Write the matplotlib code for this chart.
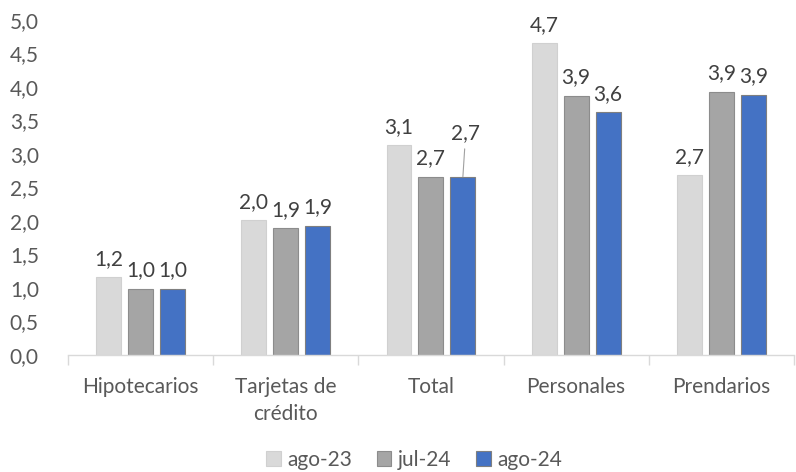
import numpy as np
import matplotlib
matplotlib.use('Agg')
import matplotlib.pyplot as plt
from matplotlib.ticker import FuncFormatter

plt.rcParams['font.family'] = ['Lato', 'DejaVu Sans']

### Data ######################################################################

categories = ['Hipotecarios', 'Tarjetas de\ncrédito', 'Total', 'Personales', 'Prendarios']
series = ['ago-23', 'jul-24', 'ago-24']
ago23 = [1.16, 2.01, 3.13, 4.65, 2.68]
jul24 = [0.99, 1.89, 2.66, 3.87, 3.93]
ago24 = [0.99, 1.93, 2.66, 3.62, 3.88]

colors = ['#D9D9D9', '#A5A5A5', '#4472C4']
edges = ['#D0D0D0', '#8C8C8C', '#7F7F7F']
fs = 15

### Plot ######################################################################

fig = plt.figure(figsize=(7.96, 4.72), dpi=100)
ax = fig.add_axes([0.0854, 0.248, 0.912, 0.71])

x = np.arange(len(categories))
width = 0.172
offsets = [-0.22, 0.0, 0.22]

def fmt(v):
    return f'{v:.1f}'.replace('.', ',')

for k, vals in enumerate([ago23, jul24, ago24]):
    bars = ax.bar(x + offsets[k], vals, width, color=colors[k], edgecolor=edges[k],
                  linewidth=0.8, label=series[k], zorder=2)
    for i, b in enumerate(bars):
        v = vals[i]
        xc = b.get_x() + b.get_width() / 2
        if k == 2 and i == 2:
            # label moved up with leader line
            ax.annotate(fmt(v), xy=(xc, v), xytext=(2, 24), textcoords='offset points',
                        ha='center', va='bottom', fontsize=fs, color='#404040',
                        arrowprops=dict(arrowstyle='-', color='#A0A0A0', lw=0.8,
                                        shrinkA=2, shrinkB=0))
        else:
            ax.annotate(fmt(v), xy=(xc, v), xytext=(0, 6), textcoords='offset points',
                        ha='center', va='bottom', fontsize=fs, color='#404040')

ax.set_ylim(0, 5)
ax.set_xlim(-0.5, len(categories) - 0.5)
ax.set_yticks(np.arange(0, 5.01, 0.5))
ax.yaxis.set_major_formatter(FuncFormatter(lambda v, p: fmt(v)))
ax.tick_params(axis='y', length=0, pad=21, labelsize=fs, labelcolor='#595959')

ax.set_xticks(np.arange(-0.5, len(categories), 1.0))
ax.set_xticklabels([])
ax.set_xticks(x, minor=True)
ax.set_xticklabels(categories, minor=True, linespacing=1.45)
ax.tick_params(axis='x', which='major', length=7, color='#D9D9D9', width=1)
ax.tick_params(axis='x', which='minor', length=0, pad=16, labelsize=fs, labelcolor='#595959')

for s in ['top', 'right', 'left']:
    ax.spines[s].set_visible(False)
ax.spines['bottom'].set_color('#D9D9D9')
ax.spines['bottom'].set_linewidth(1)

fig.legend(loc='lower center', bbox_to_anchor=(0.52, -0.035), ncol=3, frameon=False,
           fontsize=fs, handlelength=0.7, handleheight=0.7, handletextpad=0.3,
           columnspacing=1.2, labelcolor='#595959')

fig.savefig('out.png', dpi=100)
